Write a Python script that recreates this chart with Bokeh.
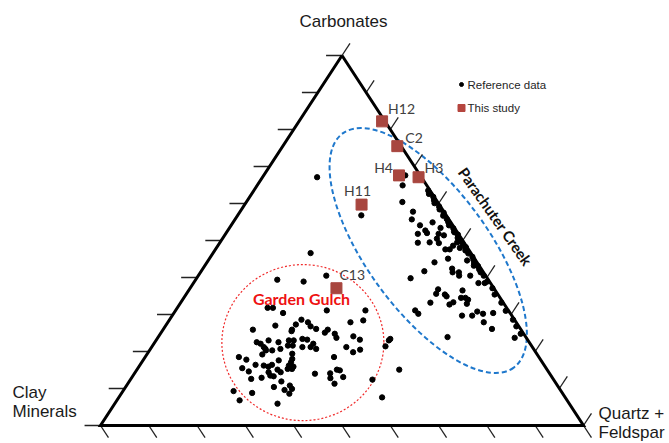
import numpy as np
from bokeh.plotting import figure
from bokeh.models import Range1d, ColumnDataSource
from bokeh.core.properties import value
from bokeh.embed import file_html
from bokeh.resources import INLINE

# ---------------- data (percent) ----------------
# Reference data: carbonates, clay minerals, quartz + feldspar
ref_carb = [
    # Parachute Creek group
    67.6, 64.9, 60.4, 56.8, 57.8, 55.7, 54.1, 54.9, 53.4, 52.7, 51.8, 52.0, 51.8, 49.4, 49.5,
    50.5, 49.3, 51.4, 47.6, 47.6, 48.6, 49.5, 52.2, 48.0, 48.2, 44.6, 44.1, 45.1, 41.7, 42.4,
    41.4, 41.4, 40.5, 43.2, 39.8, 38.5, 38.5, 36.8, 35.6, 35.4, 34.9, 36.5, 34.5, 34.5, 34.0,
    33.2, 32.7, 33.3, 32.9, 30.8, 30.2, 30.4, 29.7, 29.7, 27.9, 26.1, 31.1, 30.2, 23.9, 23.7,
    24.8, 40.5,
    # on the clay-free edge
    63.5, 62.6, 61.8, 60.9, 60.1, 59.2, 58.4, 57.5, 56.7, 55.8, 55.0, 54.1, 53.3, 52.4, 51.6,
    50.7, 49.9, 49.0, 48.2, 47.3, 46.5, 45.6, 44.8, 43.9, 43.1, 42.2, 41.4, 40.5, 38.9, 37.1,
    35.4, 33.2, 31.0, 28.6, 26.8,
    # scattered
    67.1, 46.6, 23.4, 23.0, 21.4, 15.1, 12.4, 7.6,
    # Garden Gulch group
    39.4, 38.9, 40.5, 31.8, 31.8, 30.4, 31.1, 31.1, 28.4, 27.9, 25.9, 27.0, 27.3, 28.6, 27.9,
    26.8, 26.1, 25.9, 25.5, 25.9, 25.1, 24.8, 23.7, 24.1, 23.2, 21.2, 20.5, 19.8, 22.5, 22.1,
    21.2, 20.7, 23.0, 20.3, 22.5, 20.7, 23.0, 23.0, 21.6, 21.6, 23.4, 23.2, 21.2, 21.2, 22.1,
    20.7, 19.2, 20.3, 18.5, 17.8, 15.5, 16.4, 16.2, 15.9, 16.4, 17.6, 19.4, 18.0, 17.1, 16.2,
    15.9, 15.3, 15.3, 14.6, 15.1, 14.4, 13.5, 13.3, 12.6, 12.9, 14.4, 14.0, 18.5, 15.1, 14.9,
    14.1, 12.8, 13.1, 11.3, 10.4, 11.9, 9.6, 10.8, 9.9, 8.6, 8.8, 9.3, 6.8, 5.9,
]
ref_clay = [
    3.1, 5.0, 7.3, 17.6, 6.4, 7.7, 6.8, 3.8, 2.9, 6.4, 8.4, 6.4, 4.1, 9.6, 7.1,
    5.1, 5.3, 3.2, 4.8, 3.9, 2.7, 1.4, 0.6, 1.6, 0.3, 1.8, 8.8, 5.5, 12.1, 6.0,
    6.4, 5.1, 5.5, 1.1, 15.9, 2.5, 1.2, 11.7, 12.7, 11.0, 10.9, 6.8, 8.1, 7.2, 6.9,
    15.1, 11.4, 10.3, 7.7, 6.6, 5.7, 3.5, 10.3, 8.2, 6.7, 5.9, 19.3, 19.1, 16.2, 2.4,
    0.6, 3.2,
    0.4, 0.7, 0.2, 0.5, 0.8, 0.3, 0.6, 0.2, 0.7, 0.4, 0.5, 0.8, 0.3, 0.6, 0.2,
    0.7, 0.4, 0.5, 0.3, 0.8, 0.6, 0.2, 0.4, 0.7, 0.3, 0.5, 0.6, 0.4, 0.5, 0.3,
    0.7, 0.4, 0.6, 0.3, 0.5,
    21.6, 33.2, 28.3, 28.8, 30.3, 30.6, 37.5, 37.9,
    43.7, 38.5, 33.0, 49.5, 48.4, 47.0, 37.6, 29.6, 31.4, 34.3, 55.5, 50.3, 45.9, 44.1, 43.1,
    43.1, 42.3, 47.4, 47.7, 40.0, 41.0, 39.1, 39.3, 35.6, 34.7, 38.5, 36.0, 37.8, 56.4, 55.8,
    55.6, 55.5, 53.7, 54.3, 51.9, 52.4, 49.5, 48.5, 50.4, 49.4, 46.5, 45.6, 47.6, 45.9, 44.9,
    45.0, 56.9, 55.6, 62.1, 60.9, 62.9, 59.7, 58.1, 57.3, 56.3, 54.3, 50.6, 51.3, 52.0, 52.9,
    52.1, 52.7, 53.6, 62.0, 55.8, 58.0, 58.1, 57.5, 62.5, 60.2, 55.5, 48.6, 42.4, 43.5, 43.0,
    45.4, 46.0, 43.2, 45.9, 58.9, 56.6, 57.1, 55.4, 55.4, 56.6, 64.2, 67.8, 67.8, 60.4,
]
ref_qf = [
    29.3, 30.1, 32.3, 25.6, 35.8, 36.6, 39.1, 41.3, 43.7, 40.9, 39.8, 41.6, 44.1, 41.0, 43.4,
    44.4, 45.4, 45.4, 47.6, 48.5, 48.7, 49.1, 47.2, 50.4, 51.5, 53.6, 47.1, 49.4, 46.2, 51.6,
    52.2, 53.5, 54.0, 55.7, 44.3, 59.0, 60.3, 51.5, 51.7, 53.6, 54.2, 56.7, 57.4, 58.3, 59.1,
    51.7, 55.9, 56.4, 59.4, 62.6, 64.1, 66.1, 60.0, 62.1, 65.4, 68.0, 49.6, 50.7, 59.9, 73.9,
    74.6, 56.3,
    36.1, 36.7, 38.0, 38.6, 39.1, 40.5, 41.0, 42.3, 42.6, 43.8, 44.5, 45.1, 46.4, 47.0, 48.2,
    48.6, 49.7, 50.5, 51.5, 51.9, 52.9, 54.2, 54.8, 55.4, 56.6, 57.3, 58.0, 59.1, 60.6, 62.6,
    63.9, 66.4, 68.4, 71.1, 72.7,
    11.3, 20.2, 48.3, 48.2, 48.3, 54.3, 50.1, 54.5,
    16.9, 22.6, 26.5, 18.7, 19.8, 22.6, 31.3, 39.3, 40.2, 37.8, 18.6, 22.7, 26.8, 27.3, 29.0,
    30.1, 31.6, 26.7, 26.8, 34.1, 33.9, 36.1, 37.0, 40.3, 42.1, 40.3, 43.5, 42.4, 21.1, 22.1,
    23.2, 23.8, 23.3, 25.4, 25.6, 26.9, 27.5, 28.5, 28.0, 29.0, 30.1, 31.2, 31.2, 32.9, 33.0,
    34.3, 23.9, 24.1, 19.4, 21.3, 21.6, 23.9, 25.7, 26.8, 27.3, 28.1, 30.0, 30.7, 30.9, 30.9,
    32.0, 32.0, 31.1, 23.4, 29.1, 27.6, 28.4, 29.2, 24.9, 26.9, 30.1, 37.4, 39.1, 41.4, 42.1,
    40.5, 41.2, 43.7, 42.8, 30.7, 31.5, 33.3, 33.8, 34.7, 34.8, 27.0, 22.9, 25.4, 33.7,
]

# This study
study_names = ["H12", "C2", "H4", "H3", "H11", "C13"]
study_carb = [82.2, 75.5, 67.6, 67.1, 59.7, 37.1]
study_clay = [0.6, 0.8, 4.4, 0.6, 16.1, 32.6]
study_qf = [17.2, 23.7, 28.0, 32.3, 24.2, 30.3]

tick_values = [0, 10, 20, 30, 40, 50, 60, 70, 80, 90, 100]

# ---------------- layout ----------------
W, H = 669, 443
LEFT_PX, RIGHT_PX, BASE_PX, TOP_PX = 100, 583, 425, 55
SX = RIGHT_PX - LEFT_PX
SY = BASE_PX - TOP_PX


def tern(carb, clay, qf):
    carb = np.asarray(carb, float)
    clay = np.asarray(clay, float)
    qf = np.asarray(qf, float)
    s = carb + clay + qf
    c = carb / s
    q = qf / s
    return q + c / 2.0, c


def px(x, y):
    return [(x - LEFT_PX) / SX], [(BASE_PX - y) / SY]


p = figure(width=W, height=H,
           x_range=Range1d(-LEFT_PX / SX, (W - LEFT_PX) / SX),
           y_range=Range1d((BASE_PX - H) / SY, BASE_PX / SY),
           x_axis_type=None, y_axis_type=None,
           output_backend="svg", toolbar_location=None, min_border=0)
p.grid.visible = False
p.outline_line_color = None
p.background_fill_color = "white"

# outlines of the two groups
bx, by = tern([47.3], [8.5], [44.2])
p.ellipse(x=bx, y=by, width=290, height=122, width_units="screen", height_units="screen",
          angle=-0.94, fill_color=None, line_color="#1f78cc", line_width=2, line_dash="5 3")
rx, ry = tern([22.4], [46.9], [30.7])
p.ellipse(x=rx, y=ry, width=162, height=156, width_units="screen", height_units="screen",
          fill_color=None, line_color="#f02a2a", line_width=1.2, line_dash="2 2")

# ticks
tv = np.asarray(tick_values, float)
T = 3.3
zero = np.zeros_like(tv)
bx0, by0 = tern(zero, 100 - tv, tv)
bx1, by1 = tern(zero - T, 100 - tv, tv + T)
lx0, ly0 = tern(tv, 100 - tv, zero)
lx1, ly1 = tern(tv, 100 - tv + T, zero - T)
qx0, qy0 = tern(tv, zero, 100 - tv)
qx1, qy1 = tern(tv + T, zero - T, 100 - tv)
for a, b, c_, d in [(bx0, by0, bx1, by1), (lx0, ly0, lx1, ly1), (qx0, qy0, qx1, qy1)]:
    p.segment(x0=a, y0=b, x1=c_, y1=d, line_color="#222222", line_width=1.3)

# triangle
tx, ty = tern([100, 0, 0, 100], [0, 100, 0, 0], [0, 0, 100, 0])
p.line(tx, ty, line_color="black", line_width=3, line_join="miter")

# reference points
rxs, rys = tern(ref_carb, ref_clay, ref_qf)
p.scatter(rxs, rys, size=5.3, marker="circle", fill_color="black", line_color="black")

# this study
sxs, sys_ = tern(study_carb, study_clay, study_qf)
label_align = ["left", "left", "right", "left", "center", "left"]
label_dx = [6, 8, -6, 6, -4, 3]
label_dy = [-13, -9, -8, -10, -14, -14]
src = ColumnDataSource(dict(x=sxs, y=sys_, name=study_names, align=label_align,
                            dx=label_dx, dy=label_dy))
p.scatter("x", "y", source=src, marker="square", size=11, fill_color="#a8463f",
          line_color="#a8463f")
p.text("x", "y", text="name", source=src, text_align="align", x_offset="dx", y_offset="dy",
       text_baseline="middle", text_font=value("Lato"), text_font_size="14px",
       text_color="#404040")

# vertex titles
AX_FONT = value("Liberation Sans")
for (x0, y0), txt, align in [((343, 20.5), "Carbonates", "center"),
                             ((12, 392), "Clay", "left"),
                             ((12, 411), "Minerals", "left"),
                             ((598, 413), "Quartz +", "left"),
                             ((598, 432), "Feldspar", "left")]:
    xx, yy = px(x0, y0)
    p.text(xx, yy, text=[txt], text_align=align, text_baseline="middle",
           text_font=AX_FONT, text_font_size="17px", text_color="#1a1a1a")

# group names
gx, gy = px(301, 298)
p.text(gx, gy, text=["Garden Gulch"], text_align="center", text_baseline="middle",
       text_font=value("Lato"), text_font_style="bold", text_font_size="16px",
       text_color="#ee1111")
cx, cy = px(495, 216)
p.text(cx, cy, text=["Parachuter Creek"], angle=-0.958, text_align="center",
       text_baseline="middle", text_font=value("Lato"), text_font_style="bold",
       text_font_size="15px", text_color="#111111")

# legend
lx, ly = px(461, 84)
p.scatter(lx, ly, size=4, marker="circle", fill_color="black", line_color="black")
lx, ly = px(467, 84)
p.text(lx, ly, text=["Reference data"], text_baseline="middle", text_font=AX_FONT,
       text_font_size="11.5px", text_color="#262626")
lx, ly = px(461, 107.5)
p.scatter(lx, ly, size=7, marker="square", fill_color="#b5453e", line_color="#b5453e")
lx, ly = px(467, 107.5)
p.text(lx, ly, text=["This study"], text_baseline="middle", text_font=AX_FONT,
       text_font_size="11.5px", text_color="#262626")

open("out.html", "w").write(file_html(p, INLINE))
